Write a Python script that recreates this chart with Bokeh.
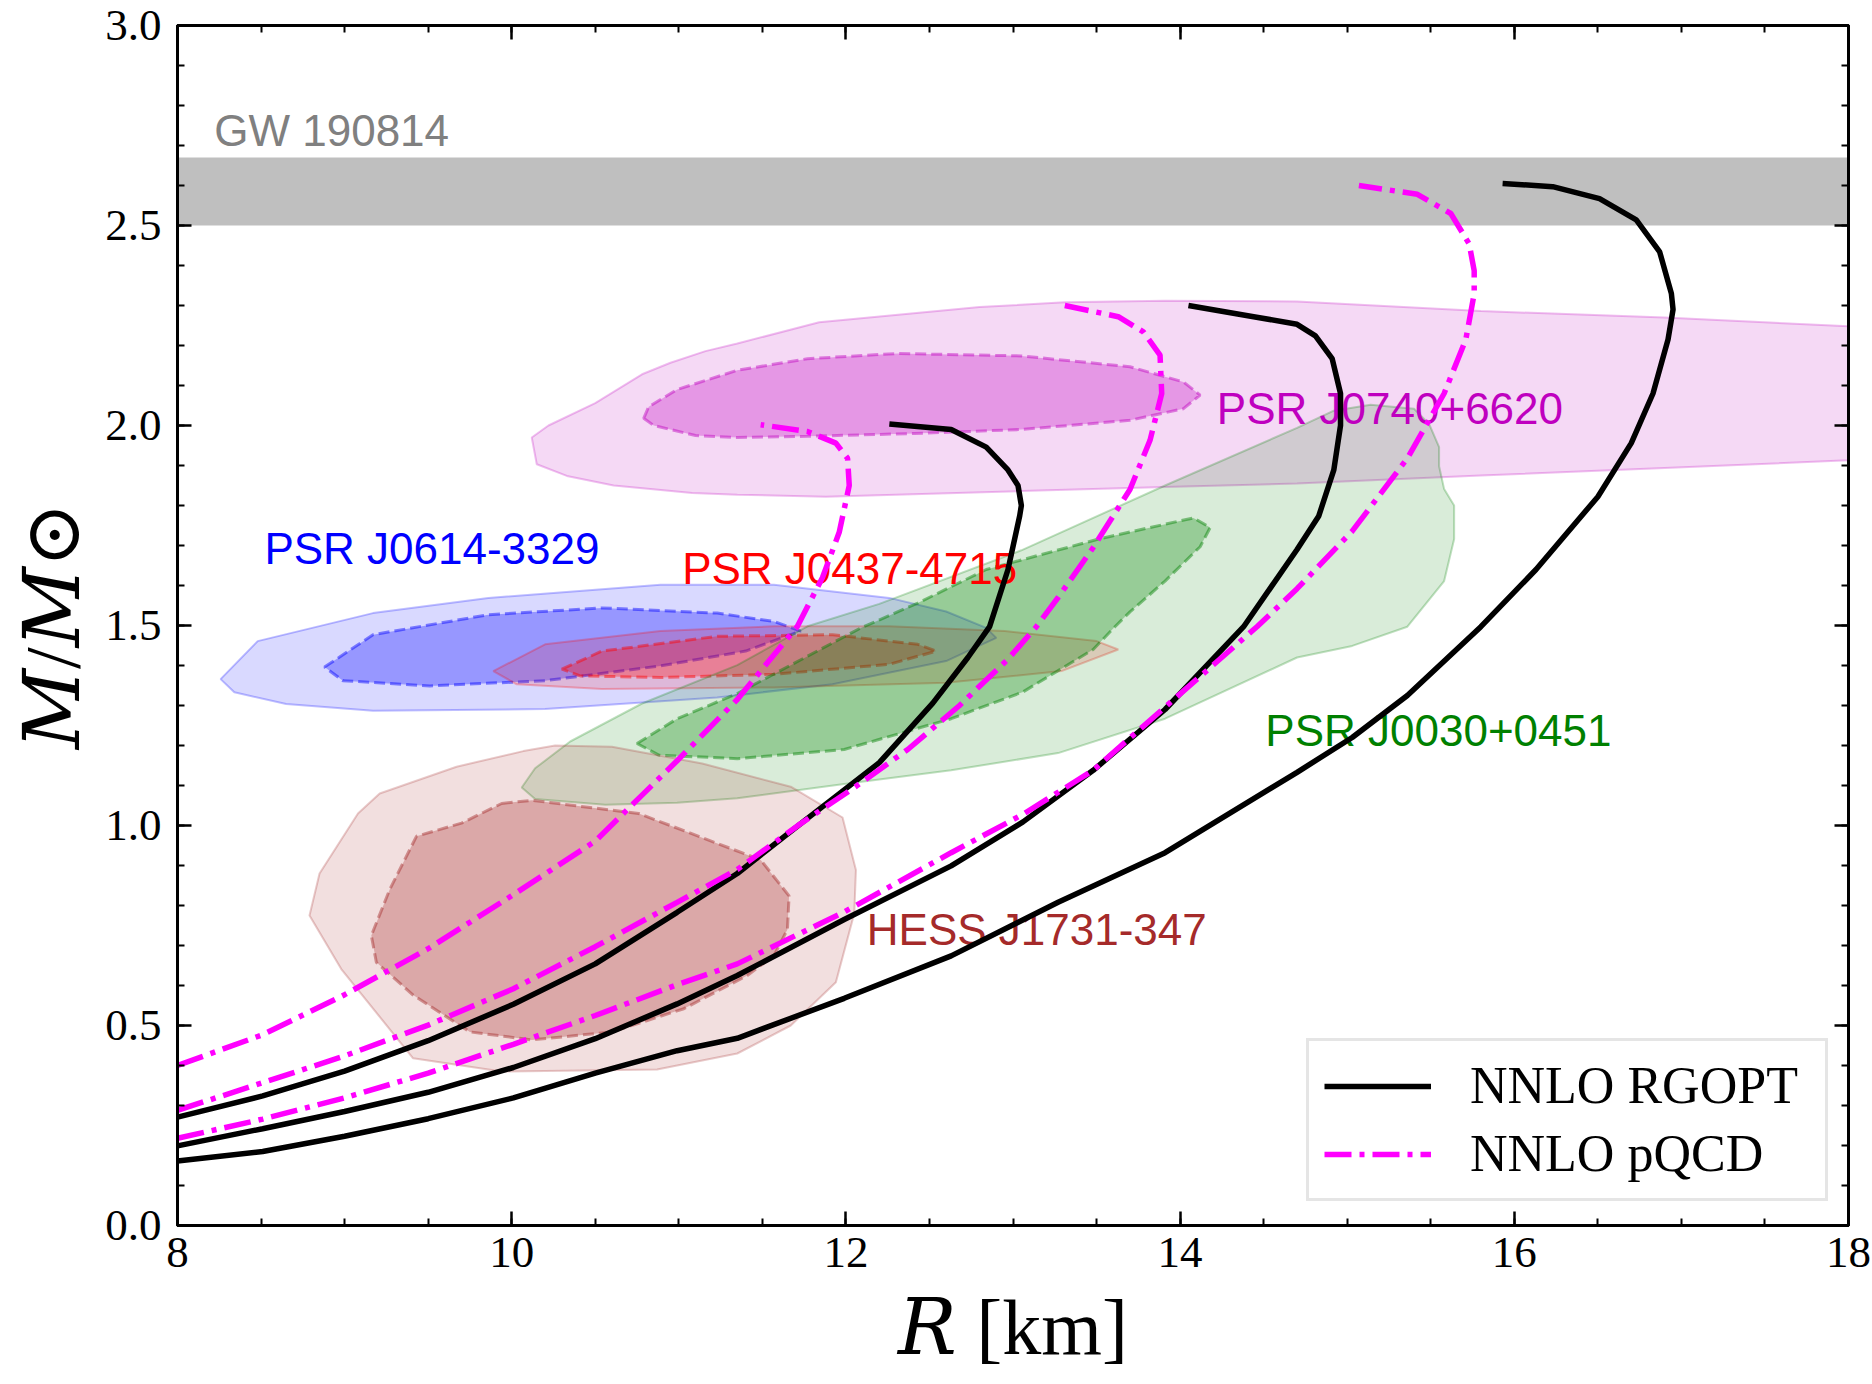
from bokeh.core.properties import value
from bokeh.embed import file_html
from bokeh.models import (BoxAnnotation, CustomLabelingPolicy, FixedTicker, Legend,
                          LegendItem, LinearAxis, PrintfTickFormatter, Range1d)
from bokeh.plotting import figure
from bokeh.resources import INLINE

# ---------------------------------------------------------------------------
# Mass-radius sequences (R in km, M in solar masses)
# ---------------------------------------------------------------------------
# NNLO RGOPT, three parameter choices (maximum masses 2.0, 2.3, 2.6)
rgopt_a_r = [8.0, 8.51, 9.0, 9.5, 10.01, 10.5, 10.99, 11.35, 11.77, 12.2, 12.52,
             12.73, 12.86, 12.97, 13.04, 13.05, 13.03, 12.97, 12.84, 12.63, 12.26]
rgopt_a_m = [0.271, 0.324, 0.386, 0.462, 0.553, 0.654, 0.783, 0.88, 1.018, 1.157, 1.306,
             1.42, 1.497, 1.64, 1.774, 1.80, 1.85, 1.889, 1.946, 1.99, 2.004]

rgopt_b_r = [8.0, 8.51, 9.0, 9.5, 10.01, 10.5, 10.99, 11.35, 11.99, 12.63, 13.06, 13.48,
             13.91, 14.38, 14.70, 14.83, 14.92, 14.96, 14.96, 14.91, 14.81, 14.70, 14.44, 14.05]
rgopt_b_m = [0.199, 0.242, 0.285, 0.333, 0.395, 0.467, 0.554, 0.625, 0.765, 0.899, 1.009, 1.138,
             1.29, 1.497, 1.69, 1.774, 1.889, 2.0, 2.08, 2.167, 2.224, 2.253, 2.272, 2.30]

rgopt_c_r = [8.0, 8.51, 9.0, 9.5, 10.01, 10.5, 10.99, 11.35, 11.99, 12.63, 13.27, 13.91,
             14.70, 15.03, 15.36, 15.80, 16.13, 16.5, 16.70, 16.83, 16.92, 16.95, 16.94,
             16.87, 16.73, 16.51, 16.23, 15.93]
rgopt_c_m = [0.161, 0.185, 0.223, 0.267, 0.319, 0.381, 0.437, 0.468, 0.568, 0.674, 0.808, 0.932,
             1.133, 1.22, 1.325, 1.497, 1.64, 1.822, 1.956, 2.08, 2.215, 2.29, 2.33,
             2.434, 2.514, 2.567, 2.597, 2.605]

# NNLO pQCD, three parameter choices (maximum masses 2.0, 2.3, 2.6)
pqcd_a_r = [8.0, 8.51, 9.0, 9.5, 10.01, 10.5, 10.78, 10.99, 11.35, 11.71, 11.86, 11.96,
            12.02, 12.01, 11.94, 11.77, 11.49]
pqcd_a_m = [0.400, 0.477, 0.577, 0.692, 0.827, 0.961, 1.076, 1.162, 1.315, 1.498, 1.62, 1.733,
            1.85, 1.918, 1.956, 1.985, 2.002]

pqcd_b_r = [8.0, 8.51, 9.0, 9.5, 10.01, 10.5, 10.99, 11.35, 11.71, 12.05, 12.37, 12.68,
            12.97, 13.14, 13.27, 13.48, 13.70, 13.82, 13.89, 13.88, 13.78, 13.63, 13.31]
pqcd_b_m = [0.288, 0.357, 0.424, 0.501, 0.592, 0.697, 0.808, 0.89, 0.999, 1.095, 1.19, 1.30,
            1.416, 1.497, 1.57, 1.695, 1.84, 1.963, 2.08, 2.176, 2.234, 2.272, 2.30]

pqcd_c_r = [8.0, 8.51, 9.0, 9.5, 10.01, 10.5, 10.99, 11.35, 11.99, 12.63, 13.06, 13.48,
            13.91, 14.46, 14.70, 15.03, 15.36, 15.58, 15.71, 15.76, 15.76, 15.73, 15.62,
            15.42, 15.07]
pqcd_c_m = [0.218, 0.266, 0.319, 0.381, 0.453, 0.525, 0.602, 0.654, 0.784, 0.932, 1.028, 1.138,
            1.296, 1.497, 1.592, 1.736, 1.918, 2.08, 2.215, 2.33, 2.387, 2.454, 2.53,
            2.578, 2.60]

# ---------------------------------------------------------------------------
# Observational credible regions (outer = 95%, inner = 68%)
# ---------------------------------------------------------------------------
j0740_outer_r = [10.12, 10.22, 10.5, 10.78, 10.95, 11.16, 11.35, 11.84, 12.8, 13.31, 13.91,
                 14.70, 15.80, 16.9, 18.0, 18.0, 16.9, 15.8, 14.70, 13.91, 13.05, 11.88,
                 11.35, 11.08, 10.61, 10.33, 10.15]
j0740_outer_m = [1.97, 2.0, 2.056, 2.128, 2.157, 2.186, 2.205, 2.258, 2.296, 2.308, 2.312,
                 2.31, 2.286, 2.27, 2.248, 1.913, 1.894, 1.875, 1.855, 1.846, 1.836, 1.822,
                 1.827, 1.831, 1.85, 1.874, 1.903]
j0740_inner_r = [10.79, 10.82, 10.99, 11.35, 11.77, 12.31, 13.05, 13.70, 14.02, 14.12,
                 14.02, 13.70, 13.05, 12.41, 11.77, 11.35, 11.1, 10.85]
j0740_inner_m = [2.018, 2.047, 2.09, 2.138, 2.167, 2.18, 2.174, 2.147, 2.109, 2.076,
                 2.042, 2.013, 1.99, 1.98, 1.973, 1.97, 1.975, 2.0]

j0614_outer_r = [8.258, 8.48, 9.17, 9.86, 10.89, 11.57, 12.26, 12.6, 12.84, 12.9, 12.6,
                 11.92, 11.23, 10.2, 9.17, 8.65, 8.34]
j0614_outer_m = [1.366, 1.461, 1.531, 1.569, 1.602, 1.602, 1.569, 1.535, 1.494, 1.469, 1.411,
                 1.353, 1.32, 1.291, 1.287, 1.304, 1.333]
j0614_inner_r = [8.88, 9.17, 9.86, 10.54, 11.23, 11.57, 11.73, 11.40, 10.89, 10.2, 9.51, 8.99]
j0614_inner_m = [1.396, 1.477, 1.527, 1.544, 1.531, 1.51, 1.486, 1.436, 1.399, 1.362, 1.349, 1.362]

j0437_outer_r = [9.89, 10.2, 10.89, 11.57, 12.26, 12.95, 13.5, 13.63, 13.29, 12.6, 11.57,
                 10.54, 10.03]
j0437_outer_m = [1.386, 1.453, 1.486, 1.498, 1.498, 1.486, 1.461, 1.44, 1.386, 1.357, 1.345,
                 1.341, 1.353]
j0437_inner_r = [10.30, 10.54, 11.23, 11.92, 12.43, 12.54, 12.26, 11.57, 10.89, 10.41]
j0437_inner_m = [1.391, 1.436, 1.473, 1.477, 1.453, 1.436, 1.403, 1.378, 1.37, 1.374]

j0030_outer_r = [10.06, 10.14, 10.56, 10.99, 11.35, 11.99, 12.63, 13.27, 13.91, 14.70, 15.03,
                 15.36, 15.58, 15.64, 15.64, 15.58, 15.55, 15.55, 15.49, 15.40, 15.14, 14.92,
                 14.70, 13.91, 13.05, 12.20, 11.77, 11.35, 10.78, 10.35, 10.14]
j0030_outer_m = [1.095, 1.066, 1.052, 1.057, 1.068, 1.104, 1.138, 1.181, 1.267, 1.42, 1.449,
                 1.497, 1.611, 1.716, 1.80, 1.841, 1.898, 1.946, 2.004, 2.042, 2.052, 2.037,
                 1.994, 1.85, 1.688, 1.554, 1.498, 1.401, 1.305, 1.21, 1.143]
j0030_inner_r = [10.75, 10.99, 11.35, 12.09, 12.43, 12.84, 13.52, 14.08, 14.18, 14.12, 13.91,
                 13.70, 13.61, 13.48, 13.06, 12.63, 11.99, 11.35, 10.88]
j0030_inner_m = [1.205, 1.267, 1.33, 1.494, 1.556, 1.64, 1.717, 1.769, 1.745, 1.697, 1.611,
                 1.534, 1.497, 1.44, 1.334, 1.267, 1.19, 1.167, 1.176]

hess_outer_r = [9.21, 9.67, 10.07, 10.26, 10.6, 11.14, 11.67, 11.98, 12.06, 12.05, 11.94,
                11.67, 11.35, 10.87, 9.94, 9.41, 8.98, 8.79, 8.85, 9.08]
hess_outer_m = [1.08, 1.147, 1.186, 1.2, 1.197, 1.155, 1.097, 1.02, 0.889, 0.78, 0.608,
                0.5, 0.43, 0.39, 0.385, 0.418, 0.641, 0.775, 0.88, 1.03]
hess_inner_r = [9.94, 10.12, 10.76, 11.49, 11.66, 11.65, 11.57, 11.41, 11.03, 10.6, 10.12,
                9.75, 9.41, 9.19, 9.16, 9.27, 9.43, 9.70]
hess_inner_m = [1.055, 1.063, 1.03, 0.914, 0.824, 0.74, 0.675, 0.625, 0.542, 0.484, 0.464,
                0.484, 0.576, 0.658, 0.725, 0.84, 0.973, 1.006]

# GW190814 secondary mass band
gw_m_low = 2.50
gw_m_high = 2.67

# Region labels: text, anchor (R, M), colour
label_text = ["GW 190814", "PSR J0614-3329", "PSR J0437-4715", "PSR J0740+6620",
              "PSR J0030+0451", "HESS J1731-347"]
label_r = [8.22, 8.52, 11.02, 14.22, 14.51, 12.125]
label_m = [2.70, 1.654, 1.606, 2.004, 1.20, 0.702]
label_color = ["#808080", "#0000FF", "#FF0000", "#BF00BF", "#008000", "#A52A2A"]

# Axis ticks
x_major = [8, 10, 12, 14, 16, 18]
x_minor = [8 + 0.5 * i for i in range(21)]
y_major = [0.0, 0.5, 1.0, 1.5, 2.0, 2.5, 3.0]
y_minor = [round(0.1 * i, 1) for i in range(31)]

# ---------------------------------------------------------------------------
p = figure(width=1872, height=1384, x_range=Range1d(8, 18), y_range=Range1d(0, 3),
           output_backend="svg", toolbar_location=None,
           min_border_left=177, min_border_right=24, min_border_top=25, min_border_bottom=159)
p.grid.visible = False
p.outline_line_color = "black"
p.outline_line_width = 3
p.background_fill_color = "white"
p.border_fill_color = "white"

xt = FixedTicker(ticks=x_major, minor_ticks=x_minor)
yt = FixedTicker(ticks=y_major, minor_ticks=y_minor)


def style_ticks(ax, label_size):
    ax.axis_line_width = 3
    ax.axis_line_color = "black"
    ax.major_tick_line_width = 2.5
    ax.minor_tick_line_width = 2
    ax.major_tick_in = 14
    ax.major_tick_out = 0
    ax.minor_tick_in = 7
    ax.minor_tick_out = 0
    ax.major_label_text_font = "Liberation Serif"
    ax.major_label_text_font_size = label_size
    ax.major_label_text_color = "black"


title_font = "'Liberation Serif', 'DejaVu Serif'"
for ax in (p.xaxis[0], p.yaxis[0]):
    style_ticks(ax, "45px")
    ax.axis_label_text_font = title_font
    ax.axis_label_text_font_size = "78px"
    ax.axis_label_text_font_style = "normal"
    ax.axis_label_text_color = "black"

p.xaxis.ticker = xt
p.yaxis.ticker = yt
p.yaxis.formatter = PrintfTickFormatter(format="%.1f")
p.xaxis.major_label_standoff = 12
p.yaxis.major_label_standoff = 16
p.xaxis.axis_label = "\U0001D445 [km]"
p.yaxis.axis_label = "\U0001D440/\U0001D440\u2299"
p.xaxis.axis_label_standoff = 14
p.yaxis.axis_label_standoff = 6

# mirrored ticks on the top and right edges, without labels
no_labels = CustomLabelingPolicy(code="for (const i of indices) indices.unset(i)\nreturn indices")
top_axis = LinearAxis(ticker=xt, major_label_policy=no_labels)
right_axis = LinearAxis(ticker=yt, major_label_policy=no_labels)
for ax in (top_axis, right_axis):
    style_ticks(ax, "1px")
    ax.major_label_standoff = 0
p.add_layout(top_axis, "above")
p.add_layout(right_axis, "right")

# GW190814 band
p.add_layout(BoxAnnotation(bottom=gw_m_low, top=gw_m_high, fill_color="gray",
                           fill_alpha=0.5, line_color=None, level="underlay"))

# Credible regions
regions = [
    (j0740_outer_r, j0740_outer_m, j0740_inner_r, j0740_inner_m, "#BF00BF"),
    (j0614_outer_r, j0614_outer_m, j0614_inner_r, j0614_inner_m, "#0000FF"),
    (j0437_outer_r, j0437_outer_m, j0437_inner_r, j0437_inner_m, "#FF0000"),
    (j0030_outer_r, j0030_outer_m, j0030_inner_r, j0030_inner_m, "#008000"),
    (hess_outer_r, hess_outer_m, hess_inner_r, hess_inner_m, "#A52A2A"),
]
for o_r, o_m, i_r, i_m, col in regions:
    p.patch(o_r, o_m, fill_color=col, fill_alpha=0.15,
            line_color=col, line_alpha=0.25, line_width=2)
    p.patch(i_r, i_m, fill_color=col, fill_alpha=0.3,
            line_color=col, line_alpha=0.45, line_width=3, line_dash="11 5")

# Region labels
p.text(x=label_r, y=label_m, text=label_text, text_color=label_color,
       text_font=value("Liberation Sans"), text_font_size=value("44px"),
       text_baseline="alphabetic", text_align="left", y_offset=-15)

# Mass-radius curves
line_w = 5.5
rg = []
for rr, mm in [(rgopt_a_r, rgopt_a_m), (rgopt_b_r, rgopt_b_m), (rgopt_c_r, rgopt_c_m)]:
    rg.append(p.line(rr, mm, line_color="black", line_width=line_w))
pq = []
for rr, mm in [(pqcd_a_r, pqcd_a_m), (pqcd_b_r, pqcd_b_m), (pqcd_c_r, pqcd_c_m)]:
    pq.append(p.line(rr, mm, line_color="#FF00FF", line_width=line_w,
                     line_dash="27 8 5 8"))

legend = Legend(items=[LegendItem(label="NNLO RGOPT", renderers=[rg[0]]),
                       LegendItem(label="NNLO pQCD", renderers=[pq[0]])],
                location=(1129, 24))
legend.label_text_font = "Liberation Serif"
legend.label_text_font_size = "52px"
legend.label_text_color = "black"
legend.label_width = 340
legend.glyph_width = 107
legend.glyph_height = 40
legend.label_standoff = 39
legend.padding = 15
legend.spacing = 9
legend.margin = 0
legend.border_line_color = "#CCCCCC"
legend.border_line_width = 3
legend.background_fill_alpha = 0.8
p.add_layout(legend)

open("out.html", "w").write(file_html(p, INLINE))
